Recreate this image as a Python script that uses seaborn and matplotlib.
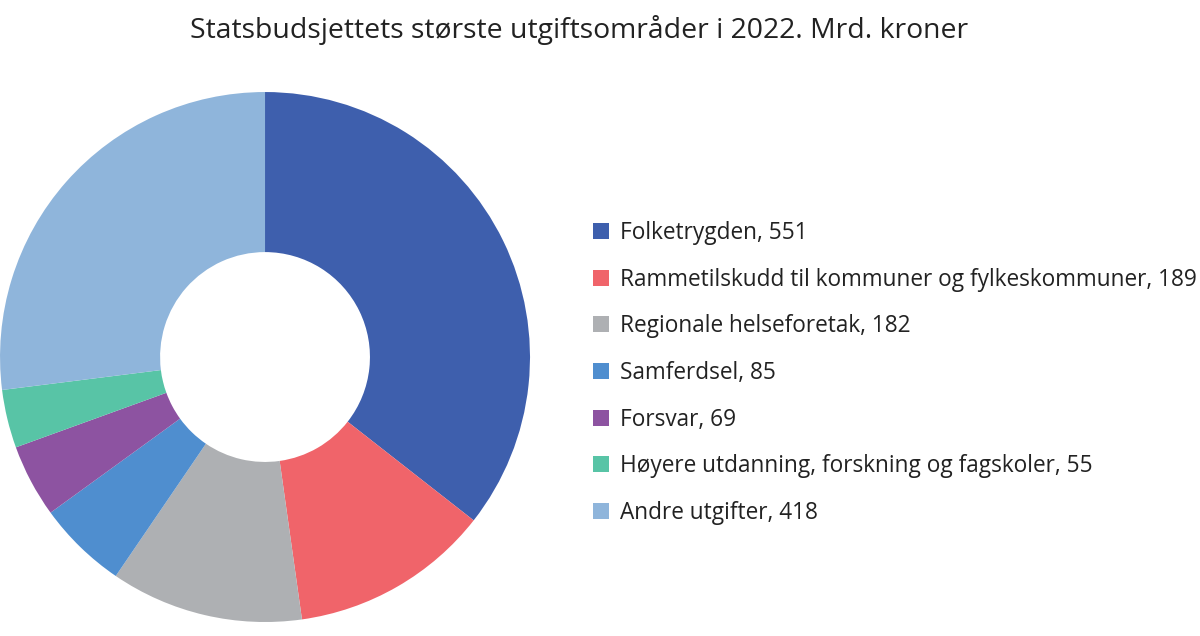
import matplotlib
matplotlib.use("Agg")
import matplotlib.pyplot as plt
import seaborn as sns
from matplotlib.patches import Patch

# Statsbudsjettets største utgiftsområder i 2022 (mrd. kroner)
categories = [
    "Folketrygden",
    "Rammetilskudd til kommuner og fylkeskommuner",
    "Regionale helseforetak",
    "Samferdsel",
    "Forsvar",
    "Høyere utdanning, forskning og fagskoler",
    "Andre utgifter",
]
values = [551, 189, 182, 85, 69, 55, 418]
colors = ["#3E5FAD", "#F0646A", "#AEB0B3", "#4F8ECF", "#8D53A1", "#58C4A6", "#8FB5DB"]

sns.set_theme(style="white")
plt.rcParams["font.family"] = ["Open Sans", "DejaVu Sans"]

fig = plt.figure(figsize=(12, 6.36), dpi=100)
palette = sns.color_palette(colors)

# donut
ax = fig.add_axes([0.0, 0.022, 0.4417, 0.8333])
ax.pie(values, colors=palette, startangle=90, counterclock=False,
       wedgeprops=dict(width=0.604, linewidth=0))
ax.set_xlim(-1, 1)
ax.set_ylim(-1, 1)
ax.set_aspect("equal")
ax.axis("off")

fig.text(0.4825, 0.953, "Statsbudsjettets største utgiftsområder i 2022. Mrd. kroner",
         ha="center", va="center", fontsize=20.4, color="#222222")

labels = [f"{c}, {v}" for c, v in zip(categories, values)]
handles = [Patch(facecolor=col, edgecolor="none") for col in palette]
fig.legend(handles, labels, loc="upper left", bbox_to_anchor=(0.494, 1 - 221 / 636),
           frameon=False, fontsize=16.3, handlelength=0.71, handleheight=0.71,
           handletextpad=0.49, labelspacing=1.0, borderpad=0, borderaxespad=0,
           labelcolor="#222222")

fig.savefig("out.png", dpi=100)
